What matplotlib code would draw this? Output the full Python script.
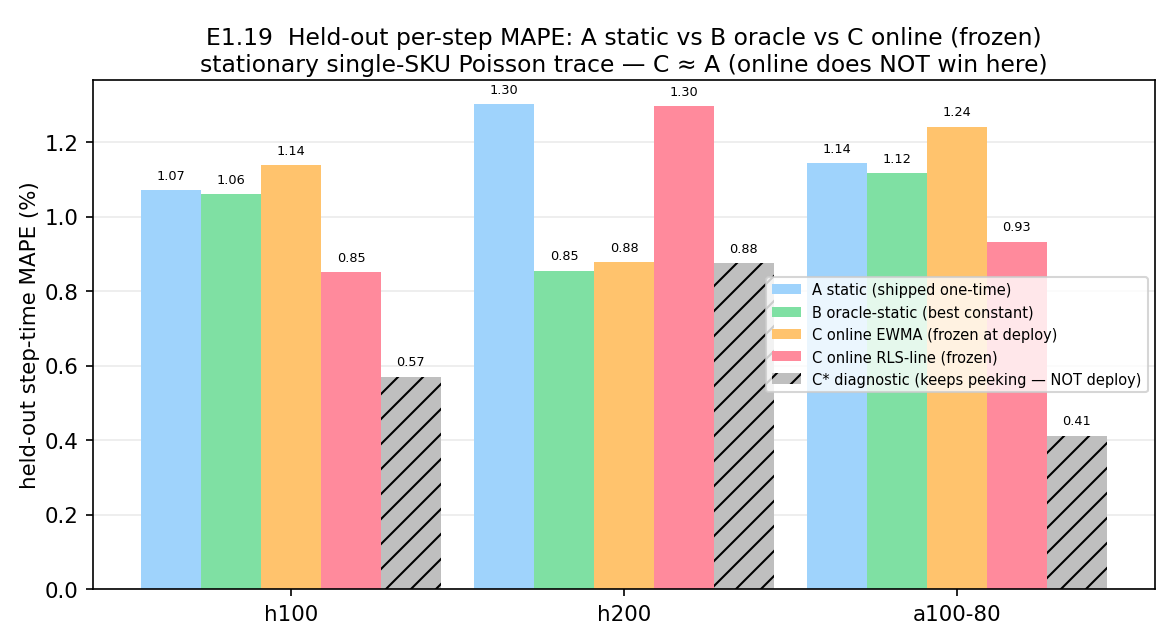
import matplotlib
matplotlib.use("Agg")
import matplotlib.pyplot as plt
import numpy as np

groups = ["h100", "h200", "a100-80"]
series = [
    "A static (shipped one-time)",
    "B oracle-static (best constant)",
    "C online EWMA (frozen at deploy)",
    "C online RLS-line (frozen)",
    "C* diagnostic (keeps peeking — NOT deploy)",
]
a_static = [1.071, 1.302, 1.143]
b_oracle = [1.060, 0.855, 1.117]
c_ewma = [1.138, 0.877, 1.241]
c_rls = [0.850, 1.297, 0.933]
c_diag = [0.570, 0.875, 0.412]
values = [a_static, b_oracle, c_ewma, c_rls, c_diag]
colors = ["#9fd3fc", "#7fe0a3", "#ffc36d", "#ff8a9c", "#bfbfbf"]
hatches = [None, None, None, None, "//"]

fig = plt.figure(figsize=(7.84, 4.293), dpi=150)
ax = fig.add_axes([93/1176, 1 - 590/644, (1155 - 93)/1176, (590 - 81)/644])
x = np.arange(len(groups))
w = 0.18
for i, (lab, vals) in enumerate(zip(series, values)):
    pos = x + (i - 2) * w
    bars = ax.bar(pos, vals, w, label=lab, color=colors[i], hatch=hatches[i],
                  edgecolor="black" if hatches[i] else colors[i], linewidth=0)
    for b, v in zip(bars, vals):
        ax.annotate(f"{v:.2f}", (b.get_x() + b.get_width() / 2, b.get_height()),
                    xytext=(0, 4), textcoords="offset points", ha="center",
                    va="bottom", fontsize=6.2)

ax.set_xticks(x)
ax.set_xticklabels(groups)
ax.tick_params(labelsize=10.25)
ax.set_ylabel("held-out step-time MAPE (%)", fontsize=10.25, labelpad=2)
ax.set_title("E1.19  Held-out per-step MAPE: A static vs B oracle vs C online (frozen)\n"
             "stationary single-SKU Poisson trace — C ≈ A (online does NOT win here)",
             fontsize=11.25, pad=4.5)
ax.set_ylim(0, 1.3665)
ax.yaxis.grid(True, alpha=0.25)
ax.set_axisbelow(True)
ax.legend(loc="center right", fontsize=7)
fig.savefig("out.png", dpi=150)
